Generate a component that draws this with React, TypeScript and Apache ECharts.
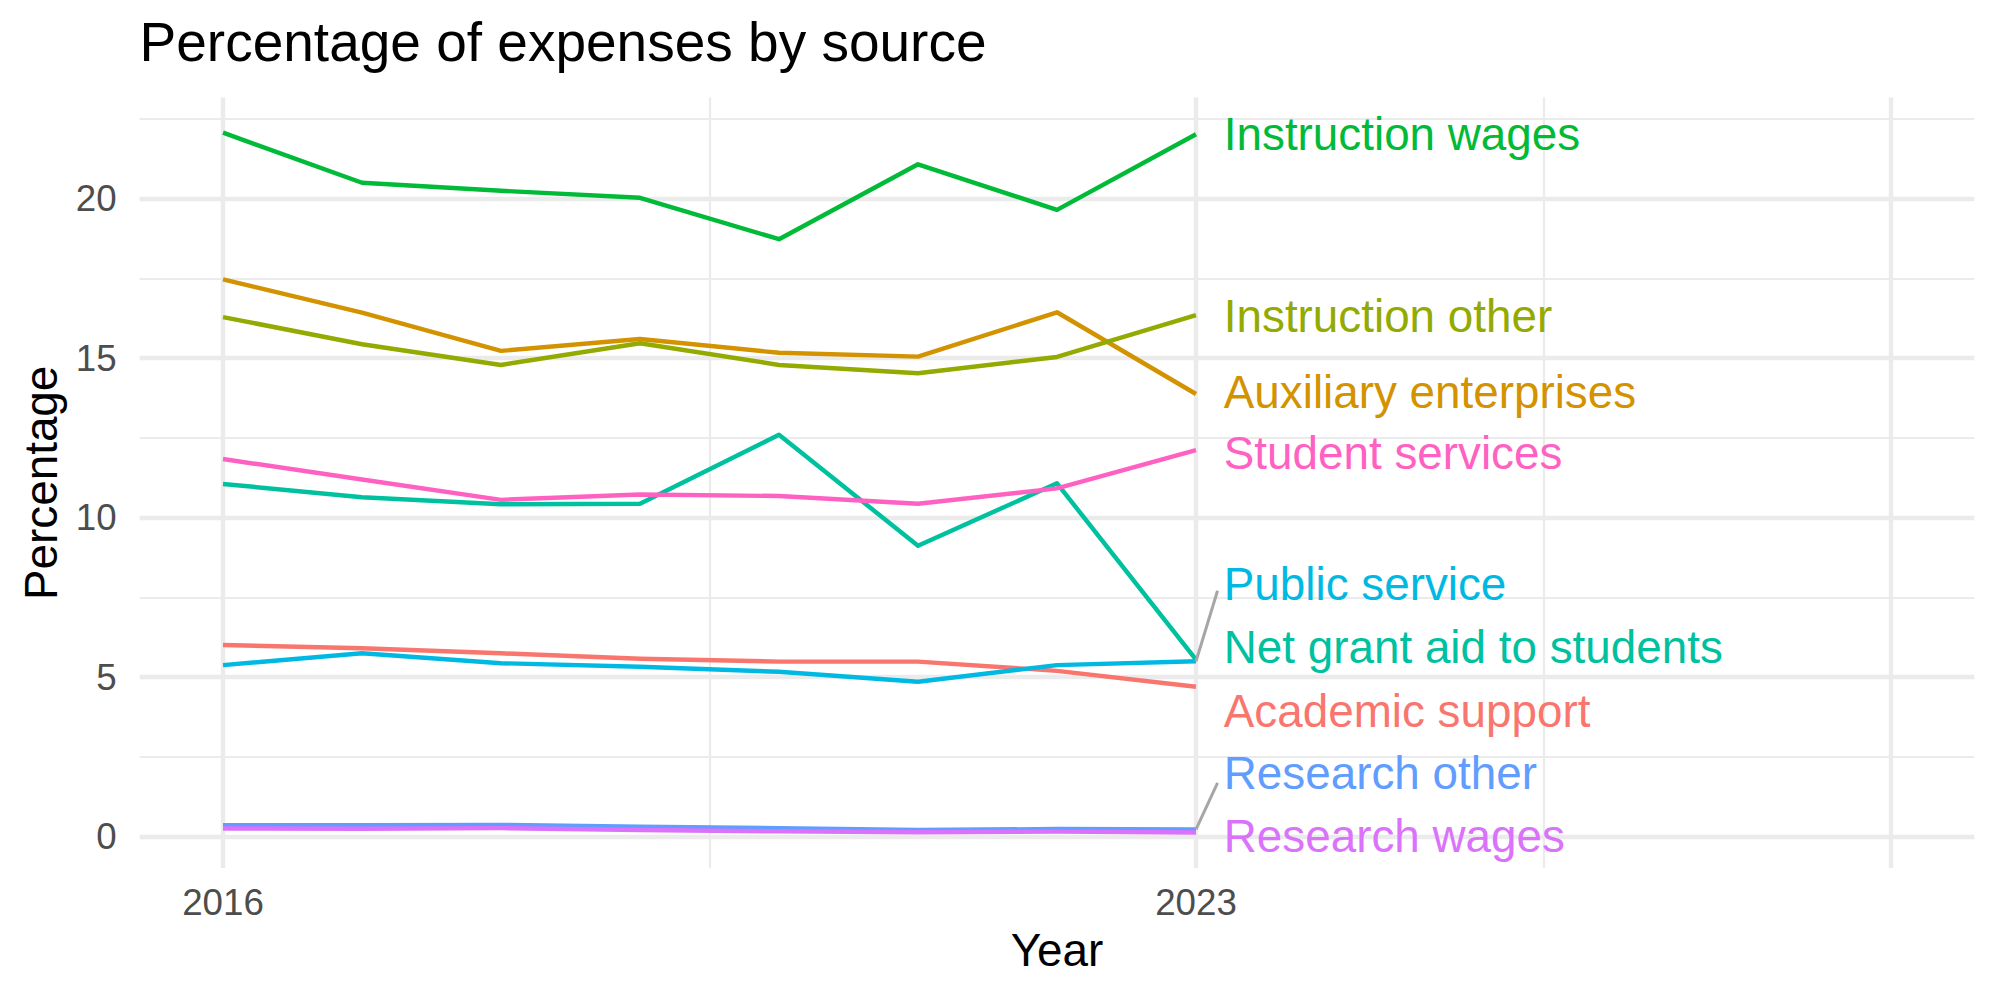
import React, { useEffect, useRef } from "react";
import * as echarts from "echarts";

// Survey years
const years = [2016, 2017, 2018, 2019, 2020, 2021, 2022, 2023];

// Expense sources (alphabetical, as in the colour scale)
const categories = [
  "Academic support",
  "Auxiliary enterprises",
  "Instruction other",
  "Instruction wages",
  "Net grant aid to students",
  "Public service",
  "Research other",
  "Research wages",
  "Student services",
];

const palette = [
  "#F8766D",
  "#D39200",
  "#93AA00",
  "#00BA38",
  "#00C19F",
  "#00B9E3",
  "#619CFF",
  "#DB72FB",
  "#FF61C3",
];

// Percentage of expenses, one array per source, 2016..2023
const academicSupport = [6.01, 5.91, 5.75, 5.58, 5.49, 5.49, 5.2, 4.7];
const auxiliaryEnterprises = [17.47, 16.43, 15.23, 15.6, 15.17, 15.05, 16.44, 13.88];
const instructionOther = [16.29, 15.44, 14.79, 15.47, 14.79, 14.53, 15.04, 16.35];
const instructionWages = [22.07, 20.5, 20.25, 20.03, 18.73, 21.08, 19.65, 22.02];
const netGrantAid = [11.06, 10.64, 10.42, 10.44, 12.6, 9.12, 11.08, 5.55];
const publicService = [5.38, 5.75, 5.44, 5.33, 5.17, 4.86, 5.38, 5.5];
const researchOther = [0.36, 0.36, 0.37, 0.31, 0.27, 0.21, 0.24, 0.23];
const researchWages = [0.26, 0.25, 0.27, 0.21, 0.17, 0.14, 0.16, 0.13];
const studentServices = [11.84, 11.2, 10.56, 10.73, 10.68, 10.44, 10.92, 12.12];

const seriesValues = [
  academicSupport,
  auxiliaryEnterprises,
  instructionOther,
  instructionWages,
  netGrantAid,
  publicService,
  researchOther,
  researchWages,
  studentServices,
];

// Repelled end-label placement (data units) for each source
const labelX = 2023.2;
const labelY = [3.94, 13.92, 16.32, 22.0, 5.93, 7.92, 1.97, 0.0, 12.0];

// Leader segments for labels pushed away from their line ends
const segmentSources = [5, 6];
const segmentEnd = [
  [2023.155, 7.71],
  [2023.155, 1.69],
];

// Axis breaks
const xLabelValues = [2016, 2023];
const xMajorGrid = [2016, 2023, 2028];
const xMinorGrid = [2019.5, 2025.5];
const yLabelValues = [0, 5, 10, 15, 20];
const yMajorGrid = [0, 5, 10, 15, 20];
const yMinorGrid = [2.5, 7.5, 12.5, 17.5, 22.5];

const FONT = "'Liberation Sans', Arial, Helvetica, sans-serif";
const GRID = "#EBEBEB";

export default function App() {
  const ref = useRef<HTMLDivElement>(null);

  useEffect(() => {
    if (!ref.current) return;
    const chart = echarts.init(ref.current, null, { renderer: "svg" });

    const gridLines = [
      ...xMinorGrid.map((v) => ({ xAxis: v, lineStyle: { color: GRID, width: 2.2, type: "solid" } })),
      ...yMinorGrid.map((v) => ({ yAxis: v, lineStyle: { color: GRID, width: 2.2, type: "solid" } })),
      ...xMajorGrid.map((v) => ({ xAxis: v, lineStyle: { color: GRID, width: 4.45, type: "solid" } })),
      ...yMajorGrid.map((v) => ({ yAxis: v, lineStyle: { color: GRID, width: 4.45, type: "solid" } })),
    ];

    const lineSeries = categories.map((name, i) => ({
      name,
      type: "line",
      data: years.map((y, j) => [y, seriesValues[i][j]]),
      symbol: "none",
      z: 10,
      silent: true,
      lineStyle: { color: palette[i], width: 4.45, cap: "butt", join: "round", opacity: 1 },
    }));

    const segmentSeries = segmentSources.map((src, k) => ({
      type: "line",
      data: [
        [years[years.length - 1], seriesValues[src][years.length - 1]],
        segmentEnd[k],
      ],
      symbol: "none",
      z: 11,
      silent: true,
      lineStyle: { color: "#A6A6A6", width: 3, cap: "butt" },
    }));

    const labelSeries = {
      type: "scatter",
      symbolSize: 0,
      z: 12,
      silent: true,
      itemStyle: { opacity: 1 },
      data: categories.map((name, i) => ({
        value: [labelX, labelY[i]],
        name,
        itemStyle: { opacity: 1 },
        label: {
          show: true,
          position: "right",
          distance: 0,
          formatter: name,
          color: palette[i],
          opacity: 1,
          fontSize: 45.8,
          fontFamily: FONT,
        },
      })),
    };

    chart.setOption({
      animation: false,
      backgroundColor: "#FFFFFF",
      title: {
        text: "Percentage of expenses by source",
        left: 139.6,
        top: 14,
        padding: 0,
        textStyle: { color: "#000000", fontSize: 55, fontWeight: "normal", fontFamily: FONT },
      },
      grid: { left: 139.6, right: 25.6, top: 97.6, bottom: 132, containLabel: false },
      xAxis: {
        type: "value",
        min: 2015.4,
        max: 2028.6,
        name: "Year",
        nameLocation: "middle",
        nameGap: 59,
        nameTextStyle: { color: "#000000", fontSize: 45.8, fontFamily: FONT },
        axisLine: { show: false, onZero: false },
        axisTick: { show: false },
        splitLine: { show: false },
        axisLabel: {
          customValues: xLabelValues,
          formatter: (v: number) => String(v),
          color: "#4D4D4D",
          fontSize: 36.7,
          fontFamily: FONT,
          margin: 16,
        },
      },
      yAxis: {
        type: "value",
        min: -0.98,
        max: 23.17,
        name: "Percentage",
        nameLocation: "middle",
        nameGap: 75,
        nameTextStyle: { color: "#000000", fontSize: 45.8, fontFamily: FONT },
        axisLine: { show: false, onZero: false },
        axisTick: { show: false },
        splitLine: { show: false },
        axisLabel: {
          customValues: yLabelValues,
          formatter: (v: number) => String(v),
          color: "#4D4D4D",
          fontSize: 36.7,
          fontFamily: FONT,
          margin: 23,
        },
      },
      series: [
        {
          type: "line",
          data: [],
          z: 1,
          silent: true,
          markLine: {
            z: 1,
            silent: true,
            symbol: "none",
            label: { show: false },
            emphasis: { disabled: true },
            data: gridLines,
          },
        },
        ...lineSeries,
        ...segmentSeries,
        labelSeries,
      ],
    });

    return () => chart.dispose();
  }, []);

  return (
    <div
      ref={ref}
      style={{ position: "fixed", left: 0, top: 0, width: 2000, height: 1000 }}
    />
  );
}
